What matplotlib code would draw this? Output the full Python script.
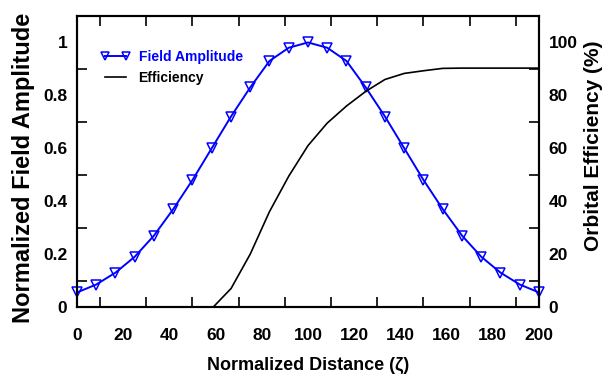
import matplotlib
matplotlib.use("Agg")
import matplotlib.pyplot as plt
from matplotlib.ticker import MultipleLocator

# Data
zeta_amp = [0, 8.33, 16.67, 25, 33.33, 41.67, 50, 58.33, 66.67, 75, 83.33, 91.67, 100,
            108.33, 116.67, 125, 133.33, 141.67, 150, 158.33, 166.67, 175, 183.33, 191.67, 200]
field_amp = [0.055, 0.085, 0.13, 0.19, 0.27, 0.37, 0.48, 0.60, 0.72, 0.83, 0.93, 0.98, 1.00,
             0.98, 0.93, 0.83, 0.72, 0.60, 0.48, 0.37, 0.27, 0.19, 0.13, 0.085, 0.055]
zeta_eff = [59, 66.7, 75, 83.3, 91.7, 100, 108.3, 116.7, 125, 133.3, 141.7, 150, 158.3, 166.7, 200]
efficiency = [0, 7, 20, 36, 49.5, 61, 69.5, 76, 81.5, 86, 88.3, 89.3, 90.2, 90.3, 90.3]
x_ticks = [0, 20, 40, 60, 80, 100, 120, 140, 160, 180, 200]
left_ticks = [0, 0.2, 0.4, 0.6, 0.8, 1.0]
left_labels = ["0", "0.2", "0.4", "0.6", "0.8", "1"]
right_ticks = [0, 20, 40, 60, 80, 100]

fam = ['Liberation Sans', 'DejaVu Sans']

fig = plt.figure(figsize=(6.10, 3.78), dpi=100)
ax = fig.add_axes([0.1262, 0.1878, 0.7574, 0.7699])
ax2 = ax.twinx()

l1, = ax.plot(zeta_amp, field_amp, color='#0000ff', lw=1.4, marker='v', markersize=6.5,
              markerfacecolor='none', markeredgecolor='#0000ff', markeredgewidth=1.1,
              label='Field Amplitude', clip_on=False, zorder=3)
l2, = ax2.plot(zeta_eff, efficiency, color='black', lw=1.2, label='Efficiency', zorder=2)

ax.set_xlim(0, 200)
ax.set_ylim(0, 1.1)
ax2.set_ylim(0, 110)

ax.set_xticks(x_ticks)
ax.xaxis.set_minor_locator(MultipleLocator(10))
ax.set_yticks(left_ticks)
ax.set_yticklabels(left_labels)
ax.yaxis.set_minor_locator(MultipleLocator(0.1))
ax2.set_yticks(right_ticks)
ax2.yaxis.set_minor_locator(MultipleLocator(10))

for a in (ax, ax2):
    for s in a.spines.values():
        s.set_linewidth(1.5)

ax.tick_params(axis='x', which='both', direction='in', top=True, width=1.2, pad=15)
ax.tick_params(axis='x', which='major', length=0)
ax.tick_params(axis='x', which='minor', length=7)
ax.tick_params(axis='y', which='both', direction='in', width=1.2, pad=7)
ax.tick_params(axis='y', which='major', length=0)
ax.tick_params(axis='y', which='minor', length=7)
ax2.tick_params(axis='y', which='both', direction='in', width=1.2, pad=7)
ax2.tick_params(axis='y', which='major', length=0)
ax2.tick_params(axis='y', which='minor', length=7)

for lab in ax.get_xticklabels() + ax.get_yticklabels() + ax2.get_yticklabels():
    lab.set_fontfamily(fam)
    lab.set_fontweight('bold')
    lab.set_fontsize(12.5)

ax.set_xlabel('Normalized Distance (ζ)', fontfamily=fam, fontweight='bold', fontsize=13)
ax.xaxis.set_label_coords(0.5, -0.17)
ax.set_ylabel('Normalized Field Amplitude', fontfamily=fam, fontweight='bold', fontsize=17)
ax.yaxis.set_label_coords(-0.09, 0.478)
ax2.set_ylabel('Orbital Efficiency (%)', fontfamily=fam, fontweight='bold', fontsize=15)
ax2.yaxis.set_label_coords(1.097, 0.555)

leg = ax.legend([l1, l2], ['Field Amplitude', 'Efficiency'], loc='upper left',
                bbox_to_anchor=(0.025, 0.925), frameon=False, handlelength=2.1,
                handletextpad=0.6, labelspacing=0.45, numpoints=2, markerscale=0.8,
                prop={'family': fam, 'weight': 'bold', 'size': 10})
leg.get_texts()[0].set_color('#0000ff')

fig.savefig('out.png', dpi=100)
